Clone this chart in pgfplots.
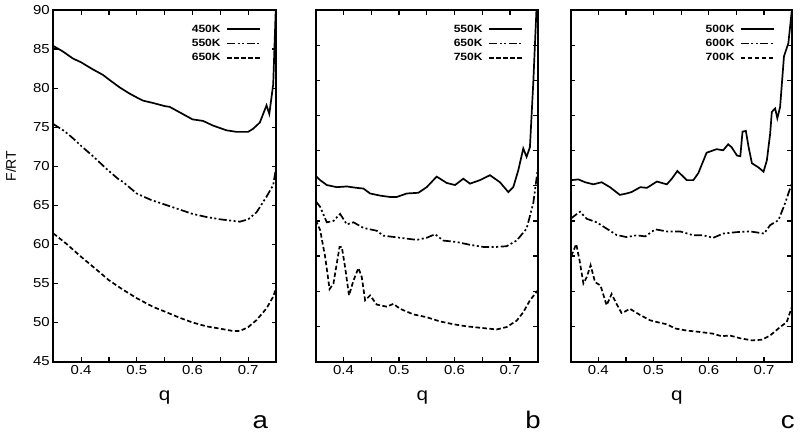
\documentclass[border=0pt]{standalone}
\usepackage{fontspec}
\setmainfont{Liberation Sans}[FakeStretch=1.15]
\newfontfamily\plainsans{Liberation Sans}
\usepackage{pgfplots}
\pgfplotsset{compat=1.18}

% line styles of the three curves in every panel, and label styles
\tikzset{
  sol/.style={black, line width=1.7pt, solid},
  ddot/.style={black, line width=1.7pt,
    dash pattern=on 8pt off 2.5pt on 2pt off 2.5pt on 2pt off 2.5pt},
  dsh/.style={black, line width=1.7pt, dash pattern=on 4.5pt off 2.5pt},
  qlab/.style={font=\fontsize{18}{20}\selectfont, anchor=base, inner sep=0pt},
  plab/.style={font=\fontsize{24}{26}\selectfont, anchor=base, inner sep=0pt},
  frame/.style={line width=2pt, black},
}

\pgfplotsset{
  panel/.style={
    scale only axis, height=351.5pt,
    axis line style={line width=2pt, black},
    xmin=0.35, xmax=0.75,
    xtick={0.4,0.5,0.6,0.7},
    minor xtick={0.45,0.55,0.65},
    tick align=inside,
    major tick length=4.5pt, minor tick length=4.5pt,
    every tick/.style={line width=1.2pt, black},
    tick label style={font=\fontsize{13}{15}\selectfont},
    /pgf/number format/assume math mode=true,
    clip mode=individual,
    legend plot pos=right,
    legend cell align=right,
    legend image code/.code={\draw[##1] (0pt,0pt) -- (33pt,0pt);},
    legend style={draw=none, fill=none, anchor=north east, inner sep=0pt,
      font=\bfseries\fontsize{10.5}{12}\selectfont,
      nodes={inner sep=0.5pt}, row sep=4.5pt, column sep=5pt},
  },
}

\begin{document}
\begin{tikzpicture}
\useasboundingbox (0pt,0pt) rectangle (800pt,434pt);

% ---------- panel a ----------
\begin{axis}[panel, at={(53.3pt,72.5pt)}, anchor=south west, width=222.7pt,
  ymin=45, ymax=90, ytick={45,50,...,90},
  legend style={at={(0.933,0.96)}}]
\addplot[sol] coordinates {
 (0.350,85.4) (0.367,84.7) (0.385,83.8) (0.400,83.3) (0.421,82.4) (0.439,81.7)
 (0.450,81.1) (0.469,80.1) (0.487,79.3) (0.500,78.8) (0.511,78.4) (0.529,78.1)
 (0.550,77.7) (0.559,77.6) (0.577,76.9) (0.600,76.0) (0.619,75.8) (0.637,75.2)
 (0.661,74.6) (0.679,74.4) (0.700,74.4) (0.709,74.8) (0.721,75.6) (0.733,77.8)
 (0.738,76.7) (0.745,80.5) (0.748,86.8) (0.750,91.0)};
\addlegendentry{450K}
\addplot[ddot] coordinates {
 (0.350,75.4) (0.370,74.5) (0.385,73.6) (0.400,72.6) (0.421,71.3) (0.445,69.7)
 (0.466,68.4) (0.475,68.0) (0.500,66.5) (0.525,65.7) (0.550,65.1) (0.575,64.5)
 (0.600,63.9) (0.625,63.5) (0.650,63.2) (0.673,63.0) (0.685,62.9) (0.700,63.2)
 (0.715,64.1) (0.733,66.1) (0.745,67.6) (0.750,69.8)};
\addlegendentry{550K}
\addplot[dsh] coordinates {
 (0.350,61.4) (0.373,60.1) (0.400,58.4) (0.427,56.8) (0.450,55.4) (0.475,54.2)
 (0.500,53.1) (0.529,52.0) (0.550,51.4) (0.577,50.6) (0.600,50.0) (0.625,49.5)
 (0.650,49.2) (0.673,48.9) (0.685,48.9) (0.700,49.4) (0.715,50.3) (0.733,51.8)
 (0.745,53.3) (0.750,54.4)};
\addlegendentry{650K}
\draw[frame] (rel axis cs:0,0) rectangle (rel axis cs:1,1);
\node[qlab] at (rel axis cs:0.5,-0.111) {q};
\node[plab] at (rel axis cs:0.93,-0.192) {a};
\node[rotate=90, anchor=base, inner sep=0pt, font=\plainsans\fontsize{14}{16}\selectfont]
  at (rel axis cs:-0.1675,0.556) {F/RT};
\end{axis}

% ---------- panel b ----------
\begin{axis}[panel, at={(315.7pt,72.5pt)}, anchor=south west, width=222pt,
  ymin=40, ymax=90, ytick={45,50,...,85}, yticklabels={},
  legend style={at={(0.934,0.96)}}]
\addplot[sol] coordinates {
 (0.350,66.4) (0.358,65.8) (0.370,65.1) (0.388,64.8) (0.406,64.9) (0.424,64.7)
 (0.436,64.6) (0.448,63.9) (0.466,63.6) (0.484,63.4) (0.496,63.4) (0.514,63.9)
 (0.535,64.0) (0.550,64.8) (0.568,66.3) (0.586,65.4) (0.601,65.1) (0.616,66.0)
 (0.628,65.3) (0.646,65.8) (0.664,66.5) (0.682,65.5) (0.697,64.1) (0.706,64.8)
 (0.715,67.2) (0.724,70.3) (0.730,69.1) (0.736,70.5) (0.742,79.6) (0.748,90.5)
 (0.750,92.0)};
\addlegendentry{550K}
\addplot[ddot] coordinates {
 (0.350,62.8) (0.358,62.0) (0.370,59.8) (0.382,60.0) (0.394,61.0) (0.406,59.5)
 (0.418,59.8) (0.436,59.0) (0.460,58.6) (0.472,57.9) (0.502,57.6) (0.532,57.3)
 (0.550,57.6) (0.565,58.1) (0.580,57.2) (0.604,57.0) (0.628,56.6) (0.652,56.3)
 (0.676,56.3) (0.694,56.4) (0.712,57.2) (0.730,58.9) (0.742,62.5) (0.747,65.5)
 (0.750,67.3)};
\addlegendentry{650K}
\addplot[dsh] coordinates {
 (0.350,60.1) (0.358,58.7) (0.367,54.9) (0.375,50.3) (0.382,51.1) (0.393,56.3)
 (0.397,56.3) (0.403,53.4) (0.410,49.4) (0.418,51.5) (0.427,53.3) (0.433,52.0)
 (0.439,48.7) (0.448,49.4) (0.460,48.1) (0.478,47.8) (0.490,48.2) (0.502,47.5)
 (0.526,46.7) (0.550,46.3) (0.574,45.7) (0.598,45.3) (0.622,45.0) (0.652,44.75)
 (0.676,44.56) (0.694,44.9) (0.712,45.8) (0.724,47.0) (0.736,48.7) (0.745,49.6)
 (0.750,50.1)};
\addlegendentry{750K}
\draw[frame] (rel axis cs:0,0) rectangle (rel axis cs:1,1);
\node[qlab] at (rel axis cs:0.48,-0.111) {q};
\node[plab] at (rel axis cs:0.979,-0.192) {b};
\end{axis}

% ---------- panel c ----------
\begin{axis}[panel, at={(570.7pt,72.5pt)}, anchor=south west, width=221pt,
  ymin=40, ymax=90, ytick={45,50,...,85}, yticklabels={},
  legend style={at={(0.924,0.96)}}]
\addplot[sol] coordinates {
 (0.350,65.8) (0.364,65.9) (0.376,65.5) (0.391,65.2) (0.406,65.5) (0.421,64.8)
 (0.439,63.7) (0.451,63.9) (0.460,64.1) (0.476,64.8) (0.488,64.7) (0.506,65.6)
 (0.524,65.2) (0.533,66.0) (0.543,67.1) (0.551,66.5) (0.560,65.8) (0.572,65.8)
 (0.581,66.8) (0.596,69.7) (0.614,70.2) (0.626,70.05) (0.635,70.9) (0.641,70.5)
 (0.651,69.3) (0.657,69.2) (0.661,72.7) (0.667,72.8) (0.672,70.5) (0.678,68.2)
 (0.690,67.6) (0.699,67.0) (0.705,68.6) (0.711,72.4) (0.714,75.5) (0.720,76.0)
 (0.724,74.6) (0.729,76.2) (0.736,83.4) (0.744,85.3) (0.750,89.8)};
\addlegendentry{500K}
\addplot[ddot] coordinates {
 (0.350,60.3) (0.358,60.8) (0.367,61.3) (0.379,60.3) (0.397,59.8) (0.415,58.9)
 (0.433,58.0) (0.451,57.7) (0.469,57.95) (0.485,57.8) (0.503,58.8) (0.524,58.5)
 (0.548,58.5) (0.572,57.95) (0.590,57.95) (0.608,57.6) (0.626,58.2) (0.650,58.4)
 (0.675,58.5) (0.700,58.2) (0.711,59.4) (0.726,60.1) (0.738,62.5) (0.750,65.3)};
\addlegendentry{600K}
\addplot[dsh] coordinates {
 (0.351,55.0) (0.360,56.7) (0.366,54.4) (0.373,51.1) (0.379,52.0) (0.386,53.7)
 (0.394,51.3) (0.404,50.8) (0.415,48.0) (0.424,49.6) (0.433,48.2) (0.442,46.9)
 (0.448,47.1) (0.457,47.5) (0.476,46.6) (0.494,45.85) (0.512,45.5) (0.524,45.3)
 (0.539,44.7) (0.560,44.4) (0.584,44.2) (0.608,43.95) (0.623,43.6) (0.638,43.7)
 (0.657,43.3) (0.678,43.0) (0.696,43.1) (0.711,43.7) (0.729,44.9) (0.741,45.6)
 (0.750,47.7)};
\addlegendentry{700K}
\draw[frame] (rel axis cs:0,0) rectangle (rel axis cs:1,1);
\node[qlab] at (rel axis cs:0.48,-0.111) {q};
\node[plab] at (rel axis cs:0.982,-0.192) {c};
\end{axis}
\end{tikzpicture}
\end{document}
